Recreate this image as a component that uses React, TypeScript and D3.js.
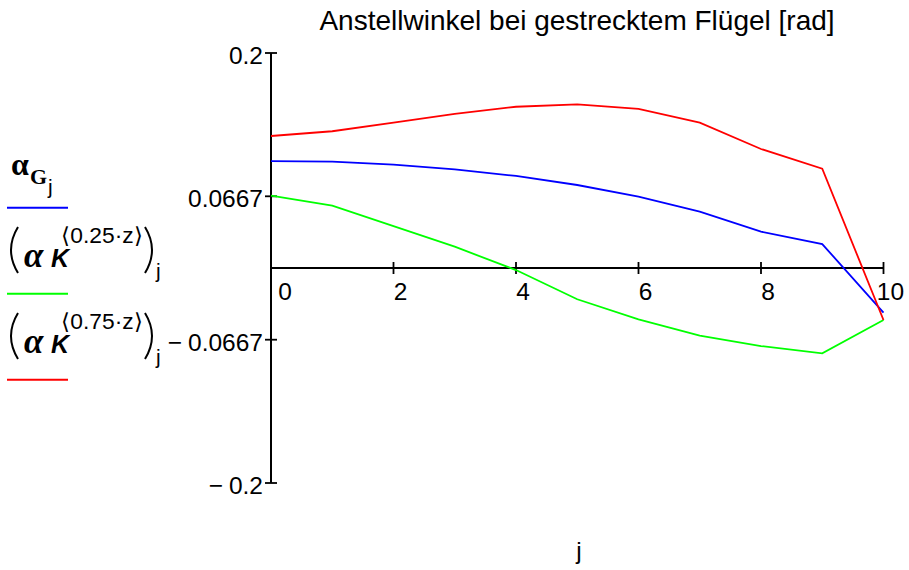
import React from "react";
import * as d3 from "d3";

// Station index j along the span
const stations = [0, 1, 2, 3, 4, 5, 6, 7, 8, 9, 10];

// Angle of attack, stretched wing [rad]
const alphaG = [0.0995, 0.0989, 0.0961, 0.0918, 0.0856, 0.0772, 0.0664, 0.0524, 0.0338, 0.0223, -0.0416];
const alphaK025 = [0.0673, 0.058, 0.039, 0.0198, -0.0019, -0.0291, -0.0478, -0.063, -0.0726, -0.0794, -0.0484];
const alphaK075 = [0.1228, 0.1272, 0.1352, 0.1433, 0.15, 0.1522, 0.148, 0.1352, 0.1107, 0.0924, -0.0484];

const yTicks = [0.2, 0.0667, -0.0667, -0.2];
const yTickLabels = ["0.2", "0.0667", "0.0667", "0.2"];
const xTicks = [0, 2, 4, 6, 8, 10];

const W = 909;
const H = 570;
const SANS = "'Liberation Sans', Arial, sans-serif";
const SERIF = "'Liberation Serif', 'Times New Roman', serif";

export default function App() {
  const x = d3.scaleLinear().domain([0, 10]).range([271, 883.5]);
  const y = d3.scaleLinear().domain([-0.2, 0.2]).range([483, 53]);
  const line = d3
    .line<number>()
    .x((_, i) => x(stations[i]))
    .y((d) => y(d));

  const series = [
    { values: alphaG, color: "#0000ff" },
    { values: alphaK025, color: "#00ff00" },
    { values: alphaK075, color: "#ff0000" },
  ];

  const kLegend = (dy: number, sup: string, color: string) => (
    <g transform={`translate(0, ${dy})`}>
      <path d="M 18 227 Q 4 250 18 273" fill="none" stroke="#000" strokeWidth={2} />
      <text x={24} y={267} fontFamily={SERIF} fontWeight="bold" fontStyle="italic" fontSize={35}>α</text>
      <text x={51} y={267} fontFamily={SANS} fontWeight="bold" fontStyle="italic" fontSize={25}>K</text>
      <text x={61} y={243} fontFamily={SANS} fontSize={22} textLength={82} lengthAdjust="spacingAndGlyphs">{sup}</text>
      <path d="M 145 227 Q 159 250 145 273" fill="none" stroke="#000" strokeWidth={2} />
      <text x={156} y={278} fontFamily={SANS} fontSize={21}>j</text>
      <line x1={7} x2={68} y1={293.7} y2={293.7} stroke={color} strokeWidth={2} />
    </g>
  );

  return (
    <div style={{ position: "absolute", left: 0, top: 0 }}>
      <svg width={W} height={H} style={{ display: "block", background: "#fff" }}>
        <text x={577} y={30} textAnchor="middle" fontFamily={SANS} fontSize={28}>
          Anstellwinkel bei gestrecktem Flügel [rad]
        </text>

        {/* axes */}
        <line x1={x(0)} x2={x(0)} y1={y(0.2)} y2={y(-0.2)} stroke="#000" strokeWidth={2} />
        <line x1={x(0)} x2={x(10)} y1={y(0)} y2={y(0)} stroke="#000" strokeWidth={2} />

        {yTicks.map((t, i) => (
          <g key={"yt" + i}>
            <line x1={x(0) - 6} x2={x(0) + 6} y1={y(t)} y2={y(t)} stroke="#000" strokeWidth={1.8} />
            <text x={263} y={y(t) + 11} textAnchor="end" fontFamily={SANS} fontSize={24.5}>
              {t < 0 ? <tspan>−<tspan dx={6}>{yTickLabels[i]}</tspan></tspan> : yTickLabels[i]}
            </text>
          </g>
        ))}

        {xTicks.map((t) => (
          <g key={"xt" + t}>
            {t !== 0 && (
              <line x1={x(t)} x2={x(t)} y1={y(0) - 6} y2={y(0) + 6} stroke="#000" strokeWidth={1.8} />
            )}
            <text x={x(t) + (t === 0 ? 14 : 7)} y={300} textAnchor="middle" fontFamily={SANS} fontSize={24.5}>
              {t}
            </text>
          </g>
        ))}

        <text x={579} y={559} textAnchor="middle" fontFamily={SANS} fontSize={24.5}>j</text>

        {series.map((s, i) => (
          <path key={i} d={line(s.values) || ""} fill="none" stroke={s.color} strokeWidth={1.8} />
        ))}

        {/* legend */}
        <text x={11} y={175} fontFamily={SERIF} fontWeight="bold" fontSize={32}>α</text>
        <text x={30} y={184} fontFamily={SERIF} fontWeight="bold" fontSize={22}>G</text>
        <text x={48} y={194} fontFamily={SANS} fontSize={21}>j</text>
        <line x1={7} x2={68} y1={207.7} y2={207.7} stroke="#0000ff" strokeWidth={2} />

        {kLegend(0, "⟨0.25·z⟩", "#00ff00")}
        {kLegend(86, "⟨0.75·z⟩", "#ff0000")}
      </svg>
    </div>
  );
}
